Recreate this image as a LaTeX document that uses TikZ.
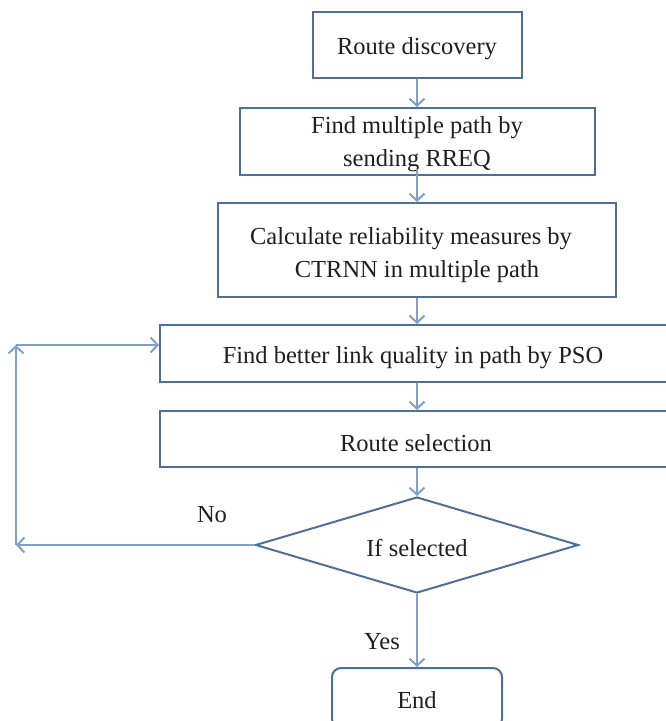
\documentclass[tikz,border=0pt]{standalone}
\usepackage{fontspec}
\setmainfont{Liberation Serif}
\usetikzlibrary{arrows.meta,shapes.geometric}
\definecolor{boxline}{HTML}{4F6F9A}
\definecolor{flowline}{HTML}{7FA0CE}
\begin{document}
\begin{tikzpicture}[x=1pt,y=-1pt,
  every node/.style={font=\fontsize{24.5}{33}\selectfont, text=black!88},
  stepbox/.style={draw=boxline, line width=2pt, inner sep=0pt},
  txt/.style={align=center, yshift=-4pt},
  decbox/.style={diamond, draw=boxline, line width=2pt, inner sep=0pt, aspect=3.3},
  flow/.style={draw=flowline, line width=2pt, -{Straight Barb[length=7pt,width=15pt]}},
  ]
\useasboundingbox (0,0) rectangle (666,721);
\begin{scope}
\clip (0,0) rectangle (666,721);
% process steps
\node[stepbox, minimum width=209, minimum height=66,
      label={[txt]center:Route discovery}] (rd) at (417,45) {};
\node[stepbox, minimum width=355, minimum height=67,
      label={[txt, yshift=1pt]center:Find multiple path by\\sending RREQ}] (fm) at (417,141.5) {};
\node[stepbox, minimum width=398, minimum height=94,
      label={[txt, yshift=-1pt, xshift=-6pt]center:Calculate reliability measures by\\\hspace*{12pt}CTRNN in multiple path}] (cr) at (417,250) {};
\node[stepbox, minimum width=520, minimum height=57,
      label={[txt, xshift=-7pt]center:Find better link quality in path by PSO}] (fb) at (420,353.5) {};
\node[stepbox, minimum width=520, minimum height=56,
      label={[txt, xshift=-4pt]center:Route selection}] (rs) at (420,439) {};
\node[decbox, minimum width=323, minimum height=96,
      label={[txt, yshift=1pt]center:If selected}] (dec) at (417,545) {};
\node[stepbox, rounded corners=9pt, minimum width=170, minimum height=60,
      label={[txt, yshift=2pt]center:End}] (end) at (417,698) {};
% connectors
\draw[flow] (rd.south) -- (fm.north);
\draw[flow] ([yshift=7pt]fm.south) -- (cr.north);
\draw[flow] (cr.south) -- (cr.south |- fb.north);
\draw[flow] (cr.south |- fb.south) -- (cr.south |- rs.north);
\draw[flow] (cr.south |- rs.south) -- (dec.north);
\draw[flow] (dec.south) -- (end.north);
% loop back when no route is selected
\coordinate (lb) at (16,545);
\coordinate (lt) at (16,345);
\draw[flow] (dec.west) -- (lb);
\draw[flow] (lb) -- (lt);
\draw[flow] (lt) -- (fb.west |- lt);
% branch labels
\node (no) at (212,515) {No};
\node (yes) at (382,642) {Yes};
\end{scope}
\end{tikzpicture}
\end{document}
